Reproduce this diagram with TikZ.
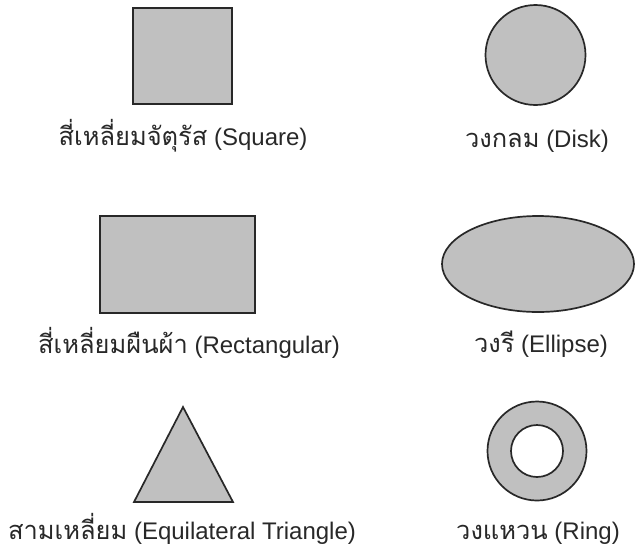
\documentclass[tikz,border=0pt]{standalone}
\usepackage{fontspec}
\setmainfont{Liberation Sans}
\newfontfamily\thaifont[Script=Thai,Scale=1.06]{Loma}
\usetikzlibrary{shapes.geometric}
\definecolor{shapegray}{RGB}{192,192,192}
\definecolor{inkgray}{RGB}{40,40,40}

\begin{document}
\begin{tikzpicture}[x=1pt,y=-1pt,
   shp/.style={draw=inkgray,line width=1.7pt,fill=shapegray,inner sep=0pt},
   lbl/.style={anchor=base,inner sep=0pt,text=inkgray,font=\fontsize{24}{28}\selectfont}]
  \useasboundingbox (0,0) rectangle (636,550);
  % left column
  \node[shp,minimum width=99pt,minimum height=96pt] (square) at (182.5,56) {};
  \node[lbl] (squarelbl) at (183,145) {{\thaifont สี่เหลี่ยมจัตุรัส} (Square)};
  \node[shp,minimum width=155pt,minimum height=97pt] (rect) at (177.5,264.5) {};
  \node[lbl] (rectlbl) at (189,353) {{\thaifont สี่เหลี่ยมผืนผ้า} (Rectangular)};
  \coordinate (tritop) at (183,407);
  \coordinate (triright) at (233,502);
  \coordinate (trileft) at (134,502);
  \draw[shp,line join=miter] (tritop) -- (triright) -- (trileft) -- cycle;
  \node[lbl] (trilbl) at (182,539) {{\thaifont สามเหลี่ยม} (Equilateral Triangle)};
  % right column
  \node[shp,circle,minimum size=100pt] (disk) at (535.5,55) {};
  \node[lbl] (disklbl) at (537,147) {{\thaifont วงกลม} (Disk)};
  \node[shp,ellipse,minimum width=192pt,minimum height=96pt] (ell) at (538,264) {};
  \node[lbl] (elllbl) at (541,352) {{\thaifont วงรี} (Ellipse)};
  \node[shp,circle,minimum size=99pt] (ring) at (537,451) {};
  \node[shp,circle,fill=white,minimum size=52pt] (hole) at (ring.center) {};
  \node[lbl] (ringlbl) at (538,539) {{\thaifont วงแหวน} (Ring)};
\end{tikzpicture}
\end{document}
